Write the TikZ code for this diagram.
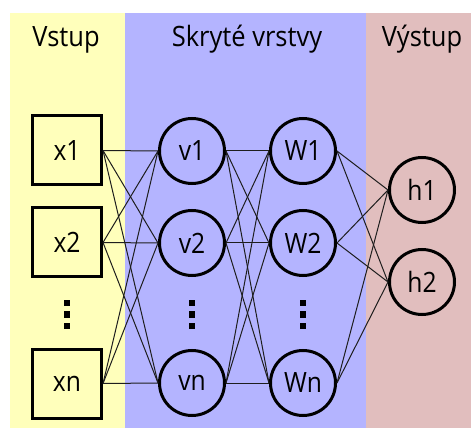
\documentclass[tikz,border=0pt]{standalone}
\usepackage{fontspec}
\setmainfont{Open Sans}
\usepackage{graphicx}
\definecolor{inband}{RGB}{255,255,187}
\definecolor{hidband}{RGB}{180,180,255}
\definecolor{outband}{RGB}{225,190,190}
\definecolor{wire}{RGB}{30,30,30}
\tikzset{
  title/.style={anchor=base, inner sep=0pt, font=\fontsize{28}{30}\selectfont},
  unit/.style={draw=black, line width=3pt, inner sep=0pt, font=\fontsize{28}{30}\selectfont},
  inbox/.style={unit, rectangle, minimum size=69pt},
  neuron/.style={unit, circle, minimum size=65pt},
  wire/.style={draw=wire, line width=1pt},
  dotmark/.style={fill=black}
}
\newcommand{\narrow}[1]{\scalebox{0.88}[1]{#1}}
\newcommand{\titlenarrow}[1]{\scalebox{0.91}[1]{#1}}
\begin{document}
\begin{tikzpicture}[x=1pt, y=-1pt]
  \useasboundingbox (0,0) rectangle (471,430);
  % layer bands
  \fill[inband]  (10,13)  rectangle (125,428);
  \fill[hidband] (125,13) rectangle (366,428);
  \fill[outband] (366,13) rectangle (471,428);
  % titles
  \node[title] (tin)  at (66,47)  {\titlenarrow{Vstup}};
  \node[title] (thid) at (247,47) {\titlenarrow{Skryté vrstvy}};
  \node[title] (tout) at (422,47) {\titlenarrow{Výstup}};
  % input units
  \node[inbox] (x1) at (67,150.5) {\narrow{x1}};
  \node[inbox] (x2) at (67,242.5) {\narrow{x2}};
  \node[inbox] (xn) at (67,383.5) {\narrow{xn}};
  % first hidden layer
  \node[neuron] (v1) at (192,151) {\narrow{v1}};
  \node[neuron] (v2) at (192,243) {\narrow{v2}};
  \node[neuron] (vn) at (192,383) {\narrow{vn}};
  % second hidden layer
  \node[neuron] (W1) at (303,151) {\narrow{W1}};
  \node[neuron] (W2) at (303,243) {\narrow{W2}};
  \node[neuron] (Wn) at (303,383) {\narrow{Wn}};
  % output units
  \node[neuron] (h1) at (422,190) {\narrow{h1}};
  \node[neuron] (h2) at (422,282) {\narrow{h2}};
  % connections
  \foreach \a in {x1,x2,xn}
    \foreach \b in {v1,v2,vn}
      \draw[wire] (\a.east) -- (\b.west);
  \foreach \a in {v1,v2,vn}
    \foreach \b in {W1,W2,Wn}
      \draw[wire] (\a.east) -- (\b.west);
  \foreach \a in {W1,W2,Wn}
    \foreach \b in {h1,h2}
      \draw[wire] (\a.east) -- (\b.west);
  % vertical ellipses
  \foreach \cx in {67,192,303}
    \foreach \cy in {303,314.5,326}
      \fill[dotmark] (\cx-3,\cy-3.2) rectangle (\cx+3,\cy+3.2);
\end{tikzpicture}
\end{document}
